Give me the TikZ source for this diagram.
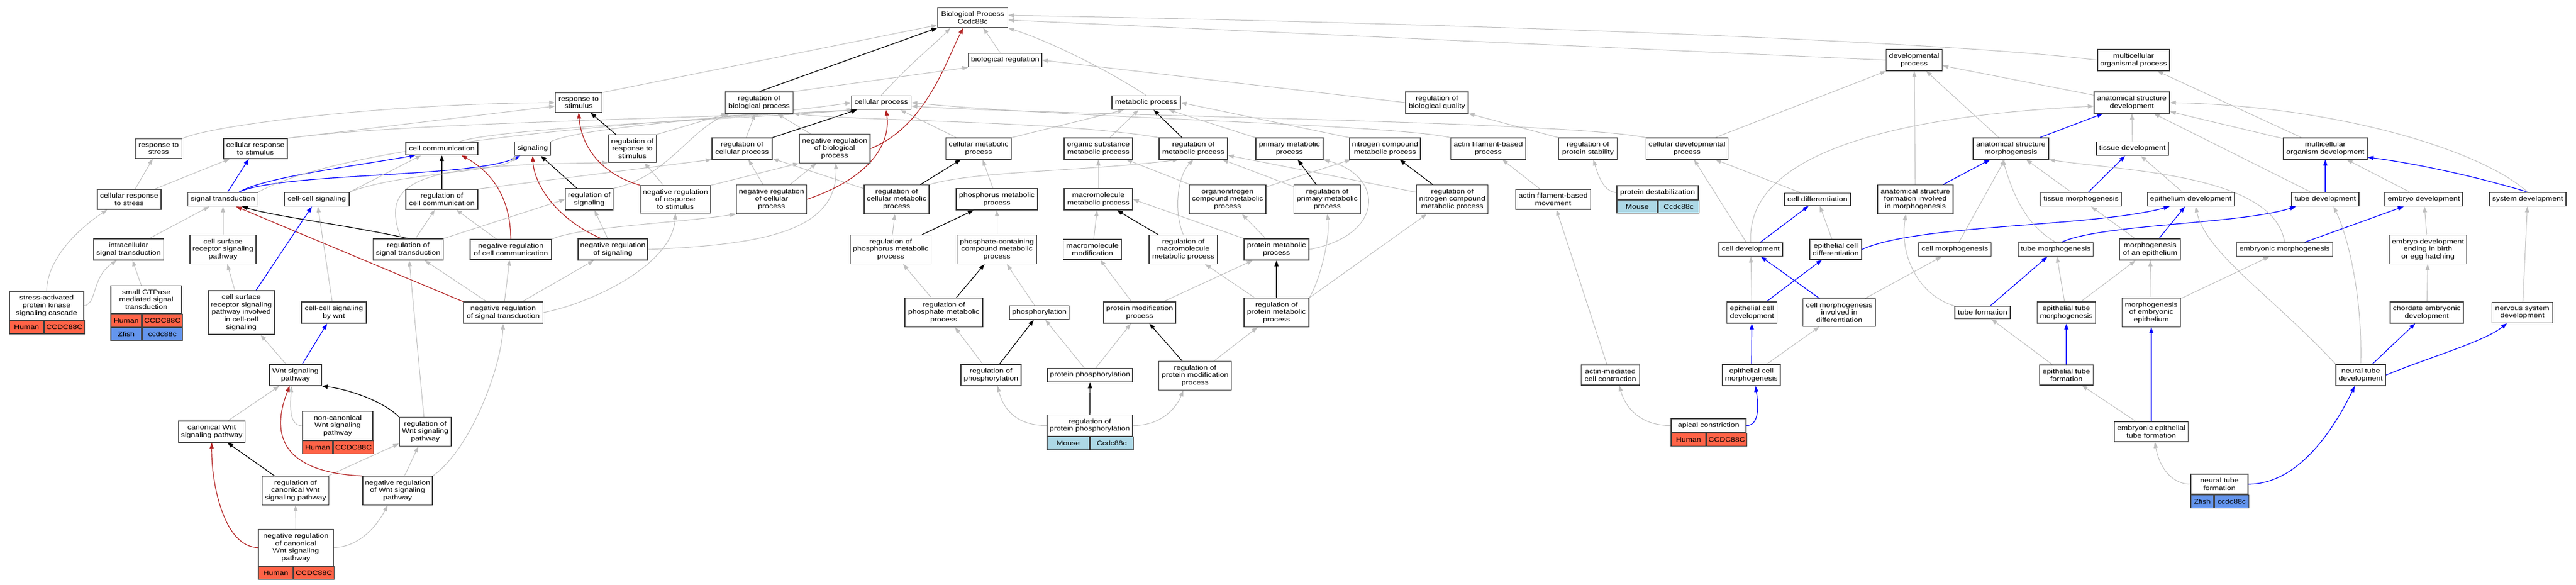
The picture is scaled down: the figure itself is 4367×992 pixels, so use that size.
\documentclass[tikz,border=0pt]{standalone}
\usepackage{fontspec}
\setmainfont[FakeStretch=1.19]{Liberation Sans}
\usetikzlibrary{arrows.meta}
\definecolor{human}{RGB}{255,99,71}
\definecolor{zfish}{RGB}{100,149,237}
\definecolor{mouse}{RGB}{173,216,230}
\definecolor{edgegray}{RGB}{190,190,190}
\definecolor{negred}{RGB}{178,34,34}
\pgfdeclarelayer{bg}
\pgfsetlayers{bg,main}

\begin{document}
\begin{tikzpicture}[x=1pt, y=-1pt,
    term/.style={draw=black!75, line width=1.3pt, fill=white, rectangle, align=center, inner xsep=3pt, inner ysep=6.5pt, font=\fontsize{11}{12.7}\selectfont},
    gene/.style={draw=black!75, line width=1.3pt, rectangle, anchor=north west, minimum height=22pt, inner sep=0pt, font=\fontsize{11}{12.7}\selectfont},
    isa/.style={draw=edgegray, line width=1pt, -{Triangle[length=10pt,width=7pt]}},
    reg/.style={draw=black, line width=1.2pt, -{Triangle[length=10pt,width=7pt]}},
    negreg/.style={draw=negred, line width=1.2pt, -{Triangle[length=10pt,width=7pt]}},
    partof/.style={draw=blue, line width=1.2pt, -{Triangle[length=10pt,width=7pt]}}]

\useasboundingbox (0,0) rectangle (4367,992);

\node[term, minimum width=119] (bp) at (1649,30) {Biological Process\\Ccdc88c};
\node[term, minimum width=124] (bioreg) at (1704,102) {biological regulation};
\node[term, minimum width=95] (devproc) at (3245,102) {developmental\\process};
\node[term, minimum width=122] (multiorg) at (3617,102) {multicellular\\organismal process};
\node[term, minimum width=79] (respstim) at (981,174) {response to\\stimulus};
\node[term, minimum width=115] (regbp) at (1287,174) {regulation of\\biological process};
\node[term, minimum width=101] (cellproc) at (1494,174) {cellular process};
\node[term, minimum width=116] (metproc) at (1943,174) {metabolic process};
\node[term, minimum width=106] (regbq) at (2436,174) {regulation of\\biological quality};
\node[term, minimum width=128] (anatdev) at (3614,174) {anatomical structure\\development};

\node[term, minimum width=79] (respstress) at (269,252) {response to\\stress};
\node[term, minimum width=108] (cellrespstim) at (433,252) {cellular response\\to stimulus};
\node[term, minimum width=122] (cellcomm) at (749,252) {cell communication};
\node[term, minimum width=61] (signaling) at (903,252) {signaling};
\node[term, minimum width=81] (regrespstim) at (1072,252) {regulation of\\response to\\stimulus};
\node[term, minimum width=102] (regcellproc) at (1258,252) {regulation of\\cellular process};
\node[term, minimum width=120] (negbp) at (1415,252) {negative regulation\\of biological\\process};
\node[term, minimum width=111] (cellmet) at (1659,252) {cellular metabolic\\process};
\node[term, minimum width=116] (orgsub) at (1862,252) {organic substance\\metabolic process};
\node[term, minimum width=116] (regmet) at (2023,252) {regulation of\\metabolic process};
\node[term, minimum width=114] (primmet) at (2186,252) {primary metabolic\\process};
\node[term, minimum width=120] (nitromet) at (2348,252) {nitrogen compound\\metabolic process};
\node[term, minimum width=127] (actinproc) at (2523,252) {actin filament-based\\process};
\node[term, minimum width=99] (regprotstab) at (2692,252) {regulation of\\protein stability};
\node[term, minimum width=139] (celldevproc) at (2860,252) {cellular developmental\\process};
\node[term, minimum width=128] (anatmorph) at (3409,252) {anatomical structure\\morphogenesis};
\node[term, minimum width=122] (tissuedev) at (3615,252) {tissue development};
\node[term, minimum width=142] (multidev) at (3942,252) {multicellular\\organism development};

\node[term, minimum width=108] (cellrespstress) at (219,338) {cellular response\\to stress};
\node[term, minimum width=119] (sigtrans) at (378,338) {signal transduction};
\node[term, minimum width=110] (ccsig) at (537,338) {cell-cell signaling};
\node[term, minimum width=122] (regcellcomm) at (749,338) {regulation of\\cell communication};
\node[term, minimum width=81] (regsig) at (999,338) {regulation of\\signaling};
\node[term, minimum width=119] (negrespstim) at (1145,338) {negative regulation\\of response\\to stimulus};
\node[term, minimum width=119] (negcellproc) at (1308,338) {negative regulation\\of cellular\\process};
\node[term, minimum width=110] (regcellmet) at (1520,338) {regulation of\\cellular metabolic\\process};
\node[term, minimum width=138] (phosmet) at (1690,338) {phosphorus metabolic\\process};
\node[term, minimum width=116] (macromet) at (1862,338) {macromolecule\\metabolic process};
\node[term, minimum width=130] (orgnmet) at (2081,338) {organonitrogen\\compound metabolic\\process};
\node[term, minimum width=113] (regprimmet) at (2250,338) {regulation of\\primary metabolic\\process};
\node[term, minimum width=121] (regnitro) at (2462,338) {regulation of\\nitrogen compound\\metabolic process};
\node[term, minimum width=127] (actinmove) at (2633,338) {actin filament-based\\movement};
\node[term, minimum width=138] (protdestab) at (2810,326.5) {protein destabilization};
\node[gene, fill=mouse, minimum width=69] (protdestabs) at (protdestab.south west) {Mouse};
\node[gene, fill=mouse, minimum width=69] (protdestabg) at (protdestabs.north east) {Ccdc88c};
\node[term, minimum width=112] (celldiff) at (3081,338) {cell differentiation};
\node[term, minimum width=128] (anatform) at (3247,338) {anatomical structure\\formation involved\\in morphogenesis};
\node[term, minimum width=137] (tissuemorph) at (3528,338) {tissue morphogenesis};
\node[term, minimum width=147] (epithdev) at (3714,338) {epithelium development};
\node[term, minimum width=114] (tubedev) at (3942,338) {tube development};
\node[term, minimum width=132] (embryodev) at (4109,338) {embryo development};
\node[term, minimum width=130] (sysdev) at (4285,338) {system development};

\node[term, minimum width=119] (intracell) at (218,423) {intracellular\\signal transduction};
\node[term, minimum width=112] (csrpath) at (378,423) {cell surface\\receptor signaling\\pathway};
\node[term, minimum width=119] (regsigtrans) at (692,423) {regulation of\\signal transduction};
\node[term, minimum width=138] (negcellcomm) at (866,423) {negative regulation\\of cell communication};
\node[term, minimum width=118] (negsig) at (1039,423) {negative regulation\\of signaling};
\node[term, minimum width=137] (regphosmet) at (1510,423) {regulation of\\phosphorus metabolic\\process};
\node[term, minimum width=135] (phosphate) at (1690,423) {phosphate-containing\\compound metabolic\\process};
\node[term, minimum width=99] (macromod) at (1852,423) {macromolecule\\modification};
\node[term, minimum width=116] (regmacromet) at (2006,423) {regulation of\\macromolecule\\metabolic process};
\node[term, minimum width=110] (protmet) at (2164,423) {protein metabolic\\process};
\node[term, minimum width=108] (celldev) at (2968,423) {cell development};
\node[term, minimum width=88] (epicelldiff) at (3112,423) {epithelial cell\\differentiation};
\node[term, minimum width=123] (cellmorph) at (3314,423) {cell morphogenesis};
\node[term, minimum width=127] (tubemorph) at (3485,423) {tube morphogenesis};
\node[term, minimum width=103] (morphepi) at (3645,423) {morphogenesis\\of an epithelium};
\node[term, minimum width=163] (embmorph) at (3873,423) {embryonic morphogenesis};
\node[term, minimum width=131] (embbirth) at (4116,423) {embryo development\\ending in birth\\or egg hatching};

\node[term, minimum width=126] (sapk) at (79,518.5) {stress-activated\\protein kinase\\signaling cascade};
\node[gene, fill=human, minimum width=58] (sapks) at (sapk.south west) {Human};
\node[gene, fill=human, minimum width=68] (sapkg) at (sapks.north east) {CCDC88C};
\node[term, minimum width=120] (smallgtp) at (248,508) {small GTPase\\mediated signal\\transduction};
\node[gene, fill=human, minimum width=52] (smallgtps) at (smallgtp.south west) {Human};
\node[gene, fill=human, minimum width=68] (smallgtpg) at (smallgtps.north east) {CCDC88C};
\node[gene, fill=zfish, minimum width=52] (smallgtpz) at (smallgtps.south west) {Zfish};
\node[gene, fill=zfish, minimum width=68] (smallgtpzg) at (smallgtpz.north east) {ccdc88c};
\node[term, minimum width=112] (csrcc) at (409,530) {cell surface\\receptor signaling\\pathway involved\\in cell-cell\\signaling};
\node[term, minimum width=110] (ccswnt) at (566,530) {cell-cell signaling\\by wnt};
\node[term, minimum width=135] (negsigtrans) at (853,530) {negative regulation\\of signal transduction};
\node[term, minimum width=132] (regphosphate) at (1600,530) {regulation of\\phosphate metabolic\\process};
\node[term, minimum width=101] (phosphoryl) at (1762,530) {phosphorylation};
\node[term, minimum width=122] (protmod) at (1932,530) {protein modification\\process};
\node[term, minimum width=110] (regprotmet) at (2164,530) {regulation of\\protein metabolic\\process};
\node[term, minimum width=85] (epicelldev) at (2970,530) {epithelial cell\\development};
\node[term, minimum width=123] (cmdiff) at (3118,530) {cell morphogenesis\\involved in\\differentiation};
\node[term, minimum width=94] (tubeform) at (3361,530) {tube formation};
\node[term, minimum width=99] (epitubemorph) at (3503,530) {epithelial tube\\morphogenesis};
\node[term, minimum width=99] (morphembepi) at (3647,530) {morphogenesis\\of embryonic\\epithelium};
\node[term, minimum width=124] (chordate) at (4114,530) {chordate embryonic\\development};
\node[term, minimum width=103] (nervdev) at (4276,530) {nervous system\\development};

\node[term, minimum width=88] (wnt) at (501,636) {Wnt signaling\\pathway};
\node[term, minimum width=102] (regphosph) at (1680,636) {regulation of\\phosphorylation};
\node[term, minimum width=144] (protphos) at (1848,636) {protein phosphorylation};
\node[term, minimum width=123] (regprotmod) at (2026,637) {regulation of\\protein modification\\process};
\node[term, minimum width=99] (actincontr) at (2730,636) {actin-mediated\\cell contraction};
\node[term, minimum width=98] (epicellmorph) at (2969,636) {epithelial cell\\morphogenesis};
\node[term, minimum width=91] (epitubeform) at (3503,636) {epithelial tube\\formation};
\node[term, minimum width=84] (neuraldev) at (4002,636) {neural tube\\development};

\node[term, minimum width=113] (canon) at (359,732) {canonical Wnt\\signaling pathway};
\node[term, minimum width=119] (noncanon) at (572.5,722) {non-canonical\\Wnt signaling\\pathway};
\node[gene, fill=human, minimum width=51] (noncanons) at (noncanon.south west) {Human};
\node[gene, fill=human, minimum width=68] (noncanong) at (noncanons.north east) {CCDC88C};
\node[term, minimum width=88] (regwnt) at (721,732) {regulation of\\Wnt signaling\\pathway};
\node[term, minimum width=145] (regprotphos) at (1847.5,721.5) {regulation of\\protein phosphorylation};
\node[gene, fill=mouse, minimum width=72] (regprotphoss) at (regprotphos.south west) {Mouse};
\node[gene, fill=mouse, minimum width=73] (regprotphosg) at (regprotphoss.north east) {Ccdc88c};
\node[term, minimum width=127] (apical) at (2896.5,721.5) {apical constriction};
\node[gene, fill=human, minimum width=59] (apicals) at (apical.south west) {Human};
\node[gene, fill=human, minimum width=68] (apicalg) at (apicals.north east) {CCDC88C};
\node[term, minimum width=125] (embepitube) at (3647,732) {embryonic epithelial\\tube formation};

\node[term, minimum width=113] (regcanon) at (501,832) {regulation of\\canonical Wnt\\signaling pathway};
\node[term, minimum width=118] (negwnt) at (674,832) {negative regulation\\of Wnt signaling\\pathway};
\node[term, minimum width=97] (neuralform) at (3762.5,821) {neural tube\\formation};
\node[gene, fill=zfish, minimum width=39] (neuralforms) at (neuralform.south west) {Zfish};
\node[gene, fill=zfish, minimum width=58] (neuralformg) at (neuralforms.north east) {ccdc88c};
\node[term, minimum width=127] (negcanon) at (501.5,928.5) {negative regulation\\of canonical\\Wnt signaling\\pathway};
\node[gene, fill=human, minimum width=59] (negcanons) at (negcanon.south west) {Human};
\node[gene, fill=human, minimum width=68] (negcanong) at (negcanons.north east) {CCDC88C};

\begin{pgfonlayer}{bg}
\draw[isa] (respstress.north east) .. controls (360,212) and (650,176) .. (respstim.west);
\draw[isa] (cellrespstim.north east) -- ([yshift=-6pt]respstim.west);
\draw[isa] (cellrespstim.north east) .. controls (700,206) and (1250,200) .. ([xshift=5pt]cellproc.south west);
\draw[isa] (cellrespstress) -- (respstress);
\draw[isa] (cellrespstress) -- (cellrespstim);
\draw[partof] (sigtrans) -- (cellrespstim);
\draw[partof] ([xshift=27pt]sigtrans.north) .. controls (450,300) and (600,282) .. ([xshift=17pt]cellcomm.south west);
\draw[partof] ([xshift=27pt]sigtrans.north) .. controls (480,292) and (800,302) .. ([xshift=10pt]signaling.south west);
\draw[isa] (sigtrans.north east) .. controls (600,235) and (1200,198) .. ([xshift=10pt]cellproc.south west);
\draw[isa] (ccsig.north east) -- ([xshift=27pt]cellcomm.south west);
\draw[isa] (ccsig.north east) .. controls (680,292) and (850,292) .. ([xshift=4pt]signaling.south west);
\draw[isa] ([xshift=28pt]cellcomm.north) .. controls (850,215) and (1300,200) .. ([xshift=2pt]cellproc.south west);
\draw[isa] (signaling.north east) .. controls (1000,212) and (1300,196) .. (cellproc.west);
\draw[reg] (regcellcomm) -- (cellcomm);
\draw[negreg] (negcellcomm.north) .. controls (865,330) and (830,290) .. ([xshift=33pt]cellcomm.south);
\draw[reg] (regsig) -- (signaling);
\draw[negreg] ([xshift=-20pt]negsig.north) .. controls (940,370) and (905,310) .. (signaling.south);
\draw[isa] (regcellcomm.north east) -- (regcellproc.south west);
\draw[reg] (regsigtrans.north) .. controls (580,380) and (470,368) .. ([xshift=32pt]sigtrans.south);
\draw[isa] (regsigtrans) -- (regcellcomm);
\draw[isa] (regsigtrans.north east) -- (regsig.west);
\draw[isa] ([xshift=-12pt]regsigtrans.north) .. controls (640,300) and (720,280) .. (regrespstim.south west);
\draw[negreg] (negsigtrans.north west) -- ([xshift=22pt]sigtrans.south);
\draw[isa] (negsigtrans) -- (regsigtrans);
\draw[isa] (negsigtrans) -- (negcellcomm);
\draw[isa] (negsigtrans) -- (negsig);
\draw[isa] (negsigtrans.east) .. controls (1000,515) and (1140,450) .. (negrespstim.south);
\draw[isa] (negcellcomm) -- (regcellcomm);
\draw[isa] (negcellcomm.north east) .. controls (980,385) and (1150,378) .. (negcellproc.south west);
\draw[isa] (negsig) -- (regsig);
\draw[isa] (negsig.east) .. controls (1300,415) and (1420,390) .. ([xshift=2pt]negbp.south);
\draw[isa] (regsig.north east) .. controls (1130,300) and (1170,220) .. ([xshift=8pt]regbp.south west);
\draw[reg] (regrespstim) -- (respstim);
\draw[isa] (regrespstim.north east) -- ([xshift=4pt]regbp.south west);
\draw[negreg] (negrespstim.north west) .. controls (1010,292) and (985,240) .. (respstim.south);
\draw[isa] (negrespstim) -- (regrespstim);
\draw[isa] (negrespstim.north east) -- (negbp.south west);
\draw[reg] (regcellproc.north east) -- ([xshift=10pt]cellproc.south west);
\draw[isa] (regcellproc) -- (regbp);
\draw[isa] (negcellproc) -- (regcellproc);
\draw[isa] (negcellproc) -- (negbp);
\draw[negreg] (negcellproc.east) .. controls (1480,300) and (1510,240) .. ([xshift=8pt]cellproc.south);
\draw[isa] (negbp) -- (regbp);
\draw[negreg] (negbp.east) .. controls (1570,215) and (1605,100) .. ([xshift=-16pt]bp.south);
\draw[reg] (regbp.north) -- (bp.south west);
\draw[isa] (regbp.north east) -- (bioreg.south west);
\draw[isa] (respstim.north east) -- ([yshift=5pt]bp.south west);
\draw[isa] (cellproc.north) .. controls (1540,110) and (1590,70) .. ([xshift=-38pt]bp.south);
\draw[isa] (bioreg) -- ([xshift=18pt]bp.south);
\draw[isa] (metproc.north) .. controls (1880,120) and (1780,70) .. (bp.south east);
\draw[isa] (devproc.west) -- ([yshift=-4pt]bp.east);
\draw[isa] (multiorg.west) .. controls (3300,70) and (2500,40) .. ([yshift=4pt]bp.east);
\draw[isa] (regbq.west) -- (bioreg.east);

\draw[isa] (intracell) -- (sigtrans);
\draw[isa] (csrpath) -- (sigtrans);
\draw[isa] (sapk.north) .. controls (80,440) and (130,390) .. ([xshift=-37pt]cellrespstress.south);
\draw[isa] (sapk.east) .. controls (165,515) and (155,470) .. ([xshift=-20pt]intracell.south);
\draw[isa] (smallgtp) -- (intracell);
\draw[isa] (csrcc) -- (csrpath);
\draw[partof] ([xshift=25pt]csrcc.north) -- (ccsig);
\draw[isa] (ccswnt) -- (ccsig);
\draw[isa] (wnt) -- (csrcc);
\draw[partof] (wnt) -- (ccswnt);
\draw[isa] (canon) -- (wnt);
\draw[isa] (noncanon.west) .. controls (490,722) and (492,690) .. ([xshift=-7pt]wnt.south);
\draw[reg] (regwnt.north west) .. controls (650,680) and (590,660) .. (wnt.south east);
\draw[isa] (regwnt) -- (regsigtrans);
\draw[reg] (regcanon) -- (canon);
\draw[isa] (regcanon) -- (regwnt);
\draw[negreg] (negwnt.north west) .. controls (460,800) and (465,720) .. ([xshift=-10pt]wnt.south);
\draw[isa] (negwnt) -- (regwnt);
\draw[isa] (negwnt.north east) .. controls (800,760) and (850,620) .. (negsigtrans.south);
\draw[negreg] (negcanon.west) .. controls (380,928) and (358,820) .. (canon.south);
\draw[isa] (negcanon) -- (regcanon);
\draw[isa] (negcanon.east) .. controls (610,928) and (640,890) .. ([xshift=-17pt]negwnt.south);

\draw[isa] (cellmet) -- ([xshift=-19pt]cellproc.south east);
\draw[isa] (cellmet.north east) -- ([xshift=21pt]metproc.south west);
\draw[isa] (orgsub) -- (metproc);
\draw[reg] (regmet) -- (metproc);
\draw[isa] (primmet) -- (metproc);
\draw[isa] (nitromet.north west) -- (metproc.east);
\draw[isa] (regmet.north west) .. controls (1800,205) and (1450,205) .. (regbp.south east);
\draw[isa] (regcellmet) -- (regcellproc);
\draw[isa] (regcellmet.north east) .. controls (1650,290) and (1850,290) .. ([xshift=-25pt]regmet.south);
\draw[reg] (regcellmet) -- (cellmet);
\draw[isa] (phosmet) -- (cellmet);
\draw[isa] (macromet) -- (orgsub);
\draw[isa] (orgnmet) -- (orgsub);
\draw[isa] (orgnmet) -- (nitromet);
\draw[reg] (regprimmet) -- (primmet);
\draw[isa] (regprimmet) -- (regmet);
\draw[reg] (regnitro) -- (nitromet);
\draw[isa] (regnitro) -- (regmet);
\draw[isa] (regmacromet.north) .. controls (1990,360) and (1995,300) .. (regmet.south);
\draw[isa] (protmet.east) .. controls (2345,400) and (2350,300) .. (primmet.south east);
\draw[isa] (protmet) -- (orgnmet);
\draw[isa] (macromod) -- (macromet);
\draw[reg] (regmacromet) -- (macromet);
\draw[isa] (protmet.north west) -- (macromet.east);
\draw[reg] (regphosmet) -- (phosmet);
\draw[isa] (regphosmet) -- (regcellmet);
\draw[isa] (phosphate) -- (phosmet);
\draw[reg] (regphosphate) -- (phosphate);
\draw[isa] (regphosphate) -- (regphosmet);
\draw[isa] (phosphoryl) -- (phosphate);
\draw[isa] (protmod) -- (macromod);
\draw[isa] (protmod) -- (protmet);
\draw[reg] (regprotmet) -- (protmet);
\draw[isa] (regprotmet) -- (regmacromet);
\draw[isa] (regprotmet.north east) .. controls (2240,470) and (2255,400) .. (regprimmet.south);
\draw[isa] (regprotmet.north east) -- ([xshift=18pt]regnitro.south west);
\draw[isa] (regprotmod) -- (regprotmet);
\draw[reg] (regprotmod) -- (protmod);
\draw[isa] (regphosph) -- (regphosphate);
\draw[reg] (regphosph) -- (phosphoryl);
\draw[isa] (protphos) -- (phosphoryl);
\draw[isa] (protphos) -- (protmod);
\draw[isa] (regprotphos.west) .. controls (1720,722) and (1700,690) .. ([xshift=11pt]regphosph.south);
\draw[reg] (regprotphos) -- (protphos);
\draw[isa] (regprotphos.east) .. controls (1970,722) and (1995,690) .. ([xshift=-20pt]regprotmod.south);
\draw[isa] (actinproc.north west) .. controls (2350,210) and (1800,200) .. (cellproc.east);
\draw[isa] (actinmove) -- (actinproc);
\draw[isa] (actincontr) -- (actinmove);
\draw[isa] (apical.west) .. controls (2780,722) and (2755,690) .. ([xshift=15pt]actincontr.south);
\draw[partof] (apical.east) .. controls (2985,722) and (2980,680) .. ([xshift=7pt]epicellmorph.south);
\draw[isa] (protdestab.west) .. controls (2720,326) and (2710,300) .. ([xshift=9pt]regprotstab.south);
\draw[isa] (regprotstab.north west) -- (regbq.south east);

\draw[isa] (celldevproc.north west) .. controls (2650,205) and (1800,196) .. ([yshift=-6pt]cellproc.east);
\draw[isa] (celldevproc) -- (devproc);
\draw[isa] (anatdev) -- (devproc);
\draw[isa] (anatmorph) -- (devproc);
\draw[partof] (anatmorph) -- (anatdev);
\draw[isa] (anatform) -- (devproc);
\draw[partof] (anatform) -- (anatmorph);
\draw[isa] (celldiff) -- (celldevproc);
\draw[isa] (celldev) -- (celldevproc);
\draw[isa] (celldev.north) .. controls (2960,280) and (3150,200) .. ([yshift=-6pt]anatdev.west);
\draw[partof] (celldev) -- (celldiff);
\draw[isa] (epicelldiff) -- (celldiff);
\draw[partof] (epicelldiff.east) .. controls (3250,380) and (3550,385) .. ([xshift=-36pt]epithdev.south);
\draw[isa] (cellmorph) -- (anatmorph);
\draw[isa] (tubemorph.north) .. controls (3430,380) and (3410,320) .. ([xshift=-14pt]anatmorph.south);
\draw[partof] ([xshift=10pt]tubemorph.north) .. controls (3560,380) and (3800,380) .. ([xshift=-50pt]tubedev.south);
\draw[isa] (tissuemorph) -- (anatmorph);
\draw[partof] (tissuemorph) -- (tissuedev);
\draw[isa] (tissuedev) -- (anatdev);
\draw[isa] (epithdev) -- (tissuedev);
\draw[isa] (multidev) -- (anatdev);
\draw[isa] (multidev) -- (multiorg);
\draw[isa] (tubedev) -- (anatdev);
\draw[partof] (tubedev) -- (multidev);
\draw[isa] (embryodev) -- (multidev);
\draw[partof] (sysdev.north) .. controls (4200,300) and (4100,278) .. ([yshift=4pt]multidev.south east);
\draw[isa] (sysdev.north) .. controls (4200,250) and (3950,180) .. (anatdev.east);
\draw[isa] (embmorph.north) .. controls (3855,295) and (3600,290) .. (anatmorph.south east);
\draw[partof] (embmorph) -- (embryodev);
\draw[isa] (morphepi) -- (tissuemorph);
\draw[partof] (morphepi) -- (epithdev);
\draw[isa] (embbirth) -- (embryodev);
\draw[partof] (cmdiff) -- (celldev);
\draw[isa] (cmdiff) -- (cellmorph);
\draw[isa] (epicelldev) -- (celldev);
\draw[partof] (epicelldev) -- (epicelldiff);
\draw[isa] (tubeform.north west) .. controls (3250,500) and (3220,430) .. ([xshift=-16pt]anatform.south);
\draw[partof] (tubeform) -- (tubemorph);
\draw[isa] (epitubemorph) -- (tubemorph);
\draw[isa] (epitubemorph) -- (morphepi);
\draw[partof] (epicellmorph) -- (epicelldev);
\draw[isa] (epicellmorph) -- (cmdiff);
\draw[partof] (epitubeform) -- (epitubemorph);
\draw[isa] (epitubeform) -- (tubeform);
\draw[isa] (morphembepi) -- (morphepi);
\draw[isa] (morphembepi) -- (embmorph);
\draw[isa] (embepitube) -- (epitubeform);
\draw[partof] (embepitube) -- (morphembepi);
\draw[isa] (neuralform.west) .. controls (3680,821) and (3660,790) .. ([xshift=6pt]embepitube.south);
\draw[partof] (neuralform.east) .. controls (3900,821) and (3960,720) .. ([xshift=-10pt]neuraldev.south);
\draw[isa] (neuraldev.north) .. controls (4005,500) and (3980,400) .. ([xshift=14pt]tubedev.south);
\draw[isa] (neuraldev.north west) .. controls (3850,500) and (3740,430) .. ([xshift=8pt]epithdev.south);
\draw[partof] (neuraldev) -- (chordate);
\draw[partof] (neuraldev.east) .. controls (4120,605) and (4210,580) .. ([xshift=-26pt]nervdev.south);
\draw[isa] (chordate) -- (embbirth);
\draw[isa] (nervdev) -- (sysdev);
\end{pgfonlayer}
\end{tikzpicture}
\end{document}
